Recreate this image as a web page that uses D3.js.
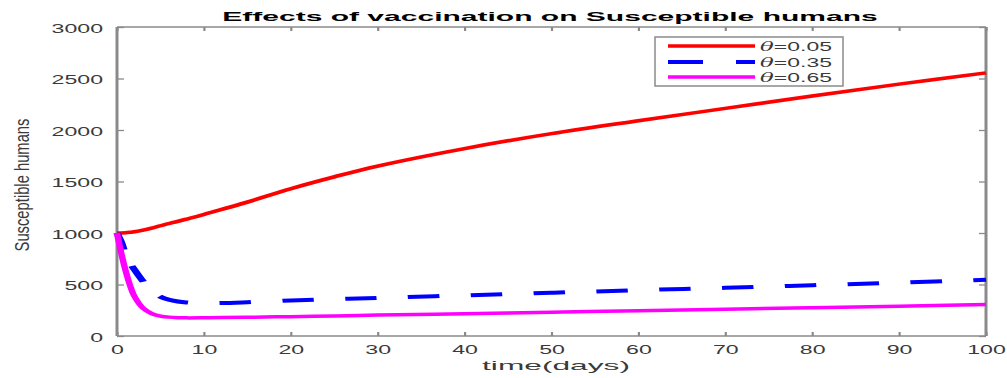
<!DOCTYPE html>
<html>
<head>
<meta charset="utf-8">
<script src="https://cdn.jsdelivr.net/npm/d3@7"></script>
<style>
  body { margin: 0; background: #fff; }
  svg { display: block; font-family: "Liberation Sans", Arial, sans-serif; }
</style>
</head>
<body>
<svg width="1007" height="378"></svg>
<script>
const svg = d3.select("svg");

// data
const time = [0, 0.5, 1, 1.5, 2, 3, 4, 5, 6, 7, 8, 10, 12, 15, 20, 25, 30, 40, 50, 60, 70, 80, 90, 100];
const theta005 = [1000, 1001, 1003, 1007, 1012, 1028, 1048, 1070, 1092, 1113, 1135, 1180, 1228, 1300, 1430, 1545, 1650, 1820, 1965, 2090, 2210, 2330, 2445, 2555];
const theta035 = [1000, 910, 790, 705, 645, 530, 435, 382, 352, 335, 326, 320, 320, 328, 345, 358, 370, 395, 420, 445, 468, 493, 518, 545];
const theta065 = [1000, 800, 630, 490, 385, 270, 218, 194, 183, 178, 176, 177, 179, 182, 188, 195, 203, 217, 231, 245, 260, 275, 290, 306];
const seriesNames = ["=0.05", "=0.35", "=0.65"];
const xTicks = [0, 10, 20, 30, 40, 50, 60, 70, 80, 90, 100];
const yTicks = [0, 500, 1000, 1500, 2000, 2500, 3000];

const plotLeft = 117, plotRight = 986, plotTop = 27, plotBottom = 336;
const stretch = 1.85; // the picture is widened horizontally
const axisGray = "#8a8a8a";
const textGray = "#3a3a3a";

const x = d3.scaleLinear().domain([0, 100]).range([plotLeft, plotRight]);
const y = d3.scaleLinear().domain([0, 3000]).range([plotBottom, plotTop]);
// unstretched x scale for curves, widened by the group transform
const xs = d3.scaleLinear().domain([0, 100]).range([0, (plotRight - plotLeft) / stretch]);

// axes with inward ticks
const gx = svg.append("g").attr("transform", `translate(0,${plotBottom})`)
  .call(d3.axisBottom(x).tickValues(xTicks).tickFormat(d3.format("d")).tickSizeInner(-4).tickSizeOuter(0));
const gxTop = svg.append("g").attr("transform", `translate(0,${plotTop})`)
  .call(d3.axisTop(x).tickValues(xTicks).tickSizeInner(-4).tickSizeOuter(0).tickFormat(""));
const gy = svg.append("g").attr("transform", `translate(${plotLeft},0)`)
  .call(d3.axisLeft(y).tickValues(yTicks).tickFormat(d3.format("d")).tickSizeInner(-7).tickSizeOuter(0));
const gyRight = svg.append("g").attr("transform", `translate(${plotRight},0)`)
  .call(d3.axisRight(y).tickValues(yTicks).tickSizeInner(-7).tickSizeOuter(0).tickFormat(""));

[gx, gxTop, gy, gyRight].forEach(g => g.select(".domain").remove());
[gx, gxTop].forEach(g => g.selectAll(".tick line").attr("stroke", axisGray).attr("stroke-width", 2.2));
[gy, gyRight].forEach(g => g.selectAll(".tick line").attr("stroke", axisGray).attr("stroke-width", 1.3));

gx.selectAll(".tick text")
  .attr("y", 18).attr("dy", 0)
  .attr("font-size", 12.5).attr("fill", textGray)
  .attr("font-family", "Liberation Sans, Arial, sans-serif")
  .attr("transform", `scale(${stretch},1)`);
gy.selectAll(".tick text")
  .attr("x", -14 / stretch).attr("dy", 5)
  .attr("font-size", 12.5).attr("fill", textGray)
  .attr("font-family", "Liberation Sans, Arial, sans-serif")
  .attr("transform", `scale(${stretch},1)`);

// box
svg.append("line").attr("x1", plotLeft).attr("x2", plotRight).attr("y1", plotTop).attr("y2", plotTop)
  .attr("stroke", axisGray).attr("stroke-width", 1.6);
svg.append("line").attr("x1", plotLeft).attr("x2", plotRight).attr("y1", plotBottom).attr("y2", plotBottom)
  .attr("stroke", axisGray).attr("stroke-width", 1.6);
svg.append("line").attr("x1", plotLeft).attr("x2", plotLeft).attr("y1", plotTop).attr("y2", plotBottom)
  .attr("stroke", axisGray).attr("stroke-width", 3);
svg.append("line").attr("x1", plotRight).attr("x2", plotRight).attr("y1", plotTop).attr("y2", plotBottom)
  .attr("stroke", axisGray).attr("stroke-width", 3);

// curves
const line = d3.line().x(d => xs(d[0])).y(d => y(d[1])).curve(d3.curveCatmullRom.alpha(0.5));
const series = [
  { values: theta005, color: "#ff0000", width: 3.5, dash: null },
  { values: theta035, color: "#0000ff", width: 4, dash: "17,17" },
  { values: theta065, color: "#ff00ff", width: 3.5, dash: null }
];
const curves = svg.append("g").attr("transform", `translate(${plotLeft},0) scale(${stretch},1)`);
series.forEach(s => {
  curves.append("path")
    .datum(time.map((t, i) => [t, s.values[i]]))
    .attr("fill", "none")
    .attr("stroke", s.color)
    .attr("stroke-width", s.width)
    .attr("stroke-dasharray", s.dash)
    .attr("d", line);
});

// helper: stretch text to a target width
function fit(sel, target, sy) {
  const len = sel.node().getComputedTextLength();
  return `scale(${target / len},${sy})`;
}

// title
const title = svg.append("g").attr("transform", "translate(550,21)");
const titleText = title.append("text")
  .attr("text-anchor", "middle").attr("font-size", 13).attr("font-weight", "bold")
  .attr("fill", "#000").text("Effects of vaccination on Susceptible humans");
titleText.attr("transform", fit(titleText, 656, 1));

// x label
const xl = svg.append("g").attr("transform", "translate(556,370)");
const xlText = xl.append("text")
  .attr("text-anchor", "middle").attr("font-size", 13).attr("fill", textGray).text("time(days)");
xlText.attr("transform", fit(xlText, 148, 1));

// y label
const yl = svg.append("g").attr("transform", "translate(29,185) rotate(-90)");
const ylText = yl.append("text")
  .attr("text-anchor", "middle").attr("font-size", 12.5).attr("fill", textGray).text("Susceptible humans");
ylText.attr("transform", fit(ylText, 133, 1.6));

// legend
const legend = svg.append("g");
legend.append("rect")
  .attr("x", 655).attr("y", 37).attr("width", 188).attr("height", 49)
  .attr("fill", "#fff").attr("stroke", axisGray).attr("stroke-width", 1.5);
const rowY = [46, 62, 77];
series.forEach((s, i) => {
  legend.append("line")
    .attr("x1", 668).attr("x2", 755).attr("y1", rowY[i]).attr("y2", rowY[i])
    .attr("stroke", s.color).attr("stroke-width", s.width)
    .attr("stroke-dasharray", s.dash ? "35,33" : null);
  const g = legend.append("g").attr("transform", `translate(760,${rowY[i] + 5})`);
  const t = g.append("text").attr("font-size", 12.5).attr("fill", textGray);
  t.append("tspan").attr("font-style", "italic").attr("font-family", "DejaVu Serif, serif").text("θ");
  t.append("tspan").text(seriesNames[i]);
  t.attr("transform", fit(t, 72, 1));
});
</script>
</body>
</html>
